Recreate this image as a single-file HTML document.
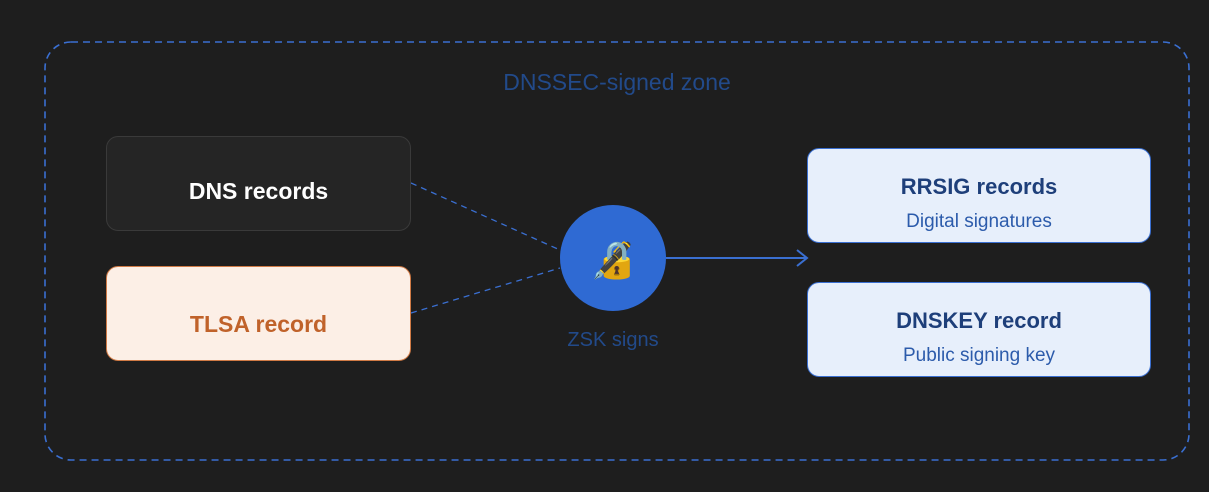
<!DOCTYPE html>
<html><head><style>
body{margin:0;width:1209px;height:492px;background:#1e1e1e;overflow:hidden;font-family:"Liberation Sans",sans-serif}
.b{position:absolute;box-sizing:border-box;border-radius:12px;text-align:center}
</style></head><body>
<svg width="1209" height="492" style="position:absolute;left:0;top:0">
<rect x="45" y="42" width="1144" height="418" rx="26" fill="none" stroke="#3a6fd1" stroke-width="1.6" stroke-dasharray="7 5"/>
<line x1="411" y1="183" x2="560" y2="250" stroke="#3a6fd1" stroke-width="1.3" stroke-dasharray="6 5"/>
<line x1="411" y1="313" x2="560" y2="268" stroke="#3a6fd1" stroke-width="1.3" stroke-dasharray="6 5"/>
<circle cx="613" cy="258" r="53" fill="#2f6ad3"/>
<line x1="666" y1="258" x2="807" y2="258" stroke="#3a6fd1" stroke-width="2"/>
<polyline points="797,250 807,258 797,266" fill="none" stroke="#3a6fd1" stroke-width="2"/>
<text x="617" y="90" text-anchor="middle" font-size="23" fill="#224a8a" font-family="Liberation Sans">DNSSEC-signed zone</text>
<text x="613" y="346" text-anchor="middle" font-size="20" fill="#224a8a" font-family="Liberation Sans">ZSK signs</text>
<text x="613" y="272" text-anchor="middle" font-size="36">🔏</text>
</svg>
<div class="b" style="left:106px;top:136px;width:305px;height:95px;background:#252525;border:1px solid #3a3a3a;color:#fff;font-size:23px;font-weight:bold;line-height:95px;padding-top:14px;line-height:81px">DNS records</div>
<div class="b" style="left:106px;top:266px;width:305px;height:95px;background:#fcefe6;border:1.5px solid #d07a45;color:#c0622a;font-size:23px;font-weight:bold;padding-top:20px;line-height:75px">TLSA record</div>
<div class="b" style="left:807px;top:148px;width:344px;height:95px;background:#e7effb;border:1.5px solid #3a6fd1;color:#1e3f7a;padding-top:25px"><div style="font-size:22px;font-weight:bold">RRSIG records</div><div style="font-size:19px;color:#2c5bab;margin-top:11px">Digital signatures</div></div>
<div class="b" style="left:807px;top:282px;width:344px;height:95px;background:#e7effb;border:1.5px solid #3a6fd1;color:#1e3f7a;padding-top:25px"><div style="font-size:22px;font-weight:bold">DNSKEY record</div><div style="font-size:19px;color:#2c5bab;margin-top:11px">Public signing key</div></div>
</body></html>
